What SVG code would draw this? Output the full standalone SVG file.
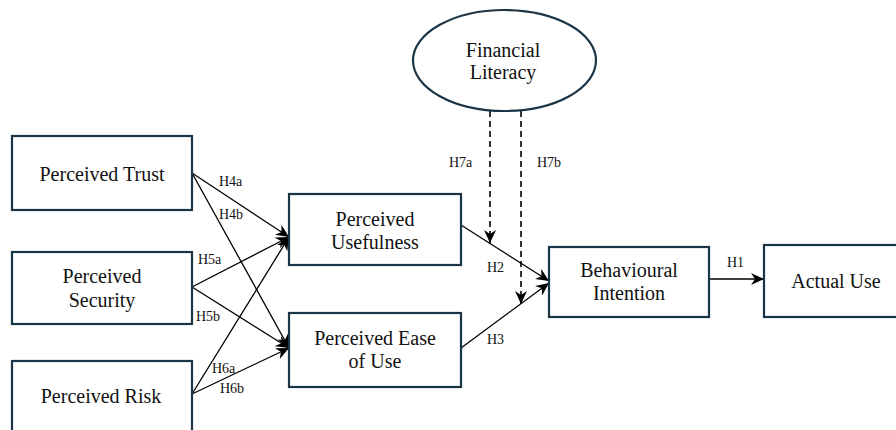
<svg xmlns="http://www.w3.org/2000/svg" width="896" height="430" viewBox="0 0 896 430">
<style>
.box{fill:#fff;stroke:#1b3446;stroke-width:2.2}
.t{font-family:'Liberation Serif',Tinos,'Times New Roman',Times,'DejaVu Serif',serif;font-size:20px;fill:#111;text-anchor:middle}
.l{font-family:'Liberation Serif',Tinos,'Times New Roman',Times,'DejaVu Serif',serif;font-size:14px;fill:#111}
.c{stroke:#000;stroke-width:1.3;fill:none}
.d{stroke:#000;stroke-width:1.6;fill:none;stroke-dasharray:6,4}
</style>
<defs>
<marker id="ah" markerUnits="userSpaceOnUse" markerWidth="14" markerHeight="12" refX="13" refY="6" orient="auto">
<path d="M0,0 L13,6 L0,12 L4,6 z" fill="#000"/>
</marker>
</defs>
<rect width="896" height="430" fill="#fff"/>
<g id="connectors">
<line class="c" x1="192" y1="173" x2="289" y2="237" marker-end="url(#ah)"/>
<line class="c" x1="192" y1="173" x2="289" y2="348" marker-end="url(#ah)"/>
<line class="c" x1="192" y1="287" x2="289" y2="237" marker-end="url(#ah)"/>
<line class="c" x1="192" y1="287" x2="289" y2="348" marker-end="url(#ah)"/>
<line class="c" x1="192" y1="394" x2="289" y2="237" marker-end="url(#ah)"/>
<line class="c" x1="192" y1="394" x2="289" y2="348" marker-end="url(#ah)"/>
<line class="c" x1="461" y1="225" x2="549" y2="281" marker-end="url(#ah)"/>
<line class="c" x1="461" y1="348" x2="549" y2="283" marker-end="url(#ah)"/>
<line class="c" x1="709" y1="279" x2="764" y2="279" marker-end="url(#ah)"/>
<line class="d" x1="490" y1="111" x2="490" y2="243" marker-end="url(#ah)"/>
<line class="d" x1="521" y1="111" x2="521" y2="304" marker-end="url(#ah)"/>
<text class="l" x="219" y="186">H4a</text>
<text class="l" x="219" y="219">H4b</text>
<text class="l" x="198" y="264">H5a</text>
<text class="l" x="196" y="321">H5b</text>
<text class="l" x="212" y="373">H6a</text>
<text class="l" x="220" y="393">H6b</text>
<text class="l" x="449" y="167">H7a</text>
<text class="l" x="537" y="167">H7b</text>
<text class="l" x="487" y="272">H2</text>
<text class="l" x="487" y="344">H3</text>
<text class="l" x="727" y="267">H1</text>
</g>
<g id="trust">
<rect class="box" x="12" y="136" width="180" height="74"/>
<text class="t" x="102" y="181">Perceived Trust</text>
</g>
<g id="security">
<rect class="box" x="12" y="252" width="180" height="72"/>
<text class="t" x="102" y="283">Perceived</text>
<text class="t" x="102" y="307">Security</text>
</g>
<g id="risk">
<rect class="box" x="12" y="361" width="180" height="73"/>
<text class="t" x="101" y="403">Perceived Risk</text>
</g>
<g id="usefulness">
<rect class="box" x="289" y="194" width="172" height="71"/>
<text class="t" x="375" y="226">Perceived</text>
<text class="t" x="375" y="249">Usefulness</text>
</g>
<g id="ease">
<rect class="box" x="289" y="313" width="172" height="74"/>
<text class="t" x="375" y="345">Perceived Ease</text>
<text class="t" x="375" y="368">of Use</text>
</g>
<g id="literacy">
<ellipse cx="504.5" cy="60.5" rx="91.5" ry="50.5" fill="#fff" stroke="#1b3446" stroke-width="2.2"/>
<text class="t" x="503" y="57">Financial</text>
<text class="t" x="503" y="79">Literacy</text>
</g>
<g id="intention">
<rect class="box" x="549" y="247" width="160" height="70"/>
<text class="t" x="629" y="277">Behavioural</text>
<text class="t" x="629" y="300">Intention</text>
</g>
<g id="actual">
<rect class="box" x="764" y="245" width="144" height="72"/>
<text class="t" x="836" y="288">Actual Use</text>
</g>
</svg>
